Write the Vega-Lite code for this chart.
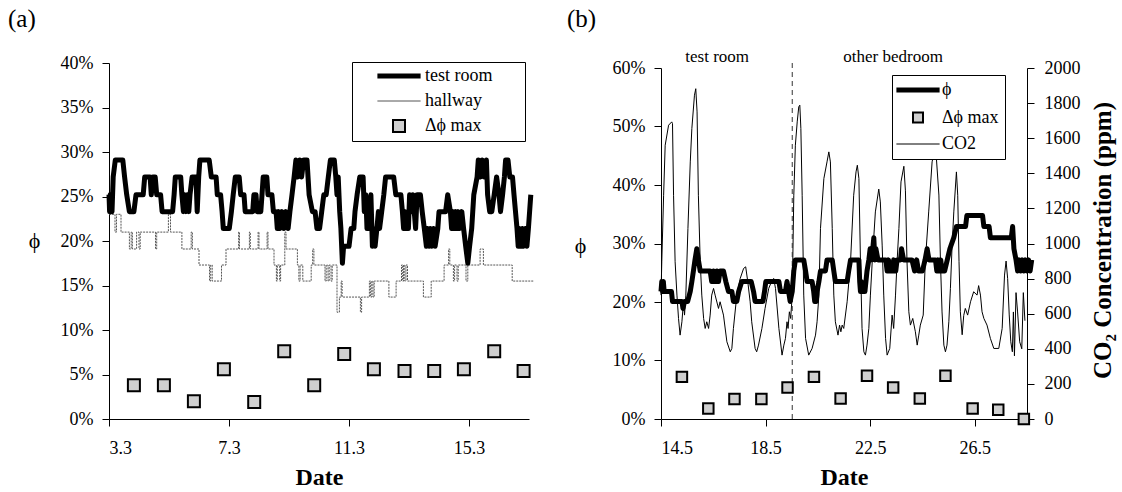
{
  "$schema": "https://vega.github.io/schema/vega-lite/v6.json",
  "autosize": {"type": "pad"},
  "padding": {"left": 8, "top": 6, "right": 5, "bottom": 5},
  "background": "white",
  "spacing": 132,
  "bounds": "flush",
  "resolve": {"scale": {"stroke": "independent"}, "legend": {"stroke": "independent"}},
  "config": {
    "view": {"stroke": null},
    "font": "Liberation Serif",
    "axis": {
      "labelFont": "Liberation Serif", "labelFontSize": 18, "labelColor": "black",
      "domainColor": "black", "tickColor": "black", "tickSize": 7, "grid": false,
      "titleFont": "Liberation Serif", "titleColor": "black", "labelOverlap": false
    },
    "legend": {
      "labelFont": "Liberation Serif", "labelFontSize": 18, "labelColor": "black",
      "strokeColor": "black", "fillColor": "white", "symbolStrokeWidth": 2
    },
    "title": {"font": "Liberation Serif", "fontSize": 25, "fontWeight": "normal", "color": "black"}
  },
  "datasets": {
    "a_test": [
      {"day":3.30,"phi":0.252},{"day":3.32,"phi":0.233},{"day":3.34,"phi":0.252},{"day":3.36,"phi":0.233},{"day":3.38,"phi":0.252},{"day":3.40,"phi":0.233},
      {"day":3.44,"phi":0.272},{"day":3.51,"phi":0.291},{"day":3.76,"phi":0.291},{"day":3.82,"phi":0.272},{"day":3.89,"phi":0.252},{"day":3.98,"phi":0.233},
      {"day":4.13,"phi":0.233},{"day":4.20,"phi":0.252},{"day":4.44,"phi":0.252},{"day":4.49,"phi":0.272},{"day":4.67,"phi":0.272},{"day":4.71,"phi":0.252},
      {"day":4.76,"phi":0.272},{"day":4.84,"phi":0.272},{"day":4.89,"phi":0.252},{"day":5.02,"phi":0.252},{"day":5.07,"phi":0.233},{"day":5.42,"phi":0.233},
      {"day":5.47,"phi":0.252},{"day":5.51,"phi":0.272},{"day":5.69,"phi":0.272},{"day":5.73,"phi":0.252},{"day":5.78,"phi":0.233},{"day":5.82,"phi":0.252},
      {"day":5.87,"phi":0.233},{"day":5.91,"phi":0.252},{"day":5.96,"phi":0.233},{"day":6.00,"phi":0.252},{"day":6.07,"phi":0.272},{"day":6.20,"phi":0.272},
      {"day":6.24,"phi":0.233},{"day":6.29,"phi":0.272},{"day":6.33,"phi":0.291},{"day":6.64,"phi":0.291},{"day":6.71,"phi":0.272},{"day":6.87,"phi":0.272},
      {"day":6.91,"phi":0.252},{"day":7.02,"phi":0.252},{"day":7.07,"phi":0.233},{"day":7.11,"phi":0.214},{"day":7.31,"phi":0.214},{"day":7.38,"phi":0.233},
      {"day":7.44,"phi":0.252},{"day":7.51,"phi":0.272},{"day":7.64,"phi":0.272},{"day":7.69,"phi":0.252},{"day":7.80,"phi":0.252},{"day":7.84,"phi":0.233},
      {"day":8.09,"phi":0.233},{"day":8.13,"phi":0.252},{"day":8.20,"phi":0.252},{"day":8.24,"phi":0.233},{"day":8.36,"phi":0.233},{"day":8.40,"phi":0.252},
      {"day":8.44,"phi":0.272},{"day":8.56,"phi":0.272},{"day":8.60,"phi":0.252},{"day":8.73,"phi":0.252},{"day":8.78,"phi":0.233},{"day":8.87,"phi":0.233},
      {"day":8.91,"phi":0.214},{"day":8.96,"phi":0.233},{"day":9.00,"phi":0.214},{"day":9.07,"phi":0.233},{"day":9.13,"phi":0.214},{"day":9.20,"phi":0.233},
      {"day":9.27,"phi":0.214},{"day":9.33,"phi":0.233},{"day":9.40,"phi":0.252},{"day":9.47,"phi":0.272},{"day":9.53,"phi":0.291},{"day":9.59,"phi":0.272},
      {"day":9.66,"phi":0.291},{"day":9.72,"phi":0.272},{"day":9.79,"phi":0.291},{"day":9.90,"phi":0.291},{"day":9.97,"phi":0.252},{"day":10.08,"phi":0.233},
      {"day":10.17,"phi":0.233},{"day":10.23,"phi":0.214},{"day":10.32,"phi":0.214},{"day":10.39,"phi":0.233},{"day":10.46,"phi":0.252},{"day":10.54,"phi":0.252},
      {"day":10.61,"phi":0.272},{"day":10.68,"phi":0.291},{"day":10.81,"phi":0.291},{"day":10.86,"phi":0.272},{"day":10.90,"phi":0.252},{"day":10.94,"phi":0.272},
      {"day":10.99,"phi":0.233},{"day":11.03,"phi":0.214},{"day":11.08,"phi":0.175},{"day":11.12,"phi":0.194},{"day":11.30,"phi":0.194},{"day":11.37,"phi":0.214},
      {"day":11.46,"phi":0.214},{"day":11.50,"phi":0.233},{"day":11.57,"phi":0.252},{"day":11.66,"phi":0.272},{"day":11.77,"phi":0.272},{"day":11.81,"phi":0.233},
      {"day":11.86,"phi":0.252},{"day":11.90,"phi":0.214},{"day":11.94,"phi":0.233},{"day":11.99,"phi":0.214},{"day":12.03,"phi":0.252},{"day":12.08,"phi":0.194},
      {"day":12.12,"phi":0.214},{"day":12.17,"phi":0.194},{"day":12.23,"phi":0.214},{"day":12.28,"phi":0.233},{"day":12.32,"phi":0.214},{"day":12.39,"phi":0.233},
      {"day":12.46,"phi":0.252},{"day":12.52,"phi":0.272},{"day":12.79,"phi":0.272},{"day":12.86,"phi":0.252},{"day":13.03,"phi":0.252},{"day":13.08,"phi":0.233},
      {"day":13.12,"phi":0.214},{"day":13.17,"phi":0.233},{"day":13.21,"phi":0.214},{"day":13.28,"phi":0.214},{"day":13.32,"phi":0.252},{"day":13.39,"phi":0.233},
      {"day":13.43,"phi":0.252},{"day":13.52,"phi":0.214},{"day":13.57,"phi":0.252},{"day":13.68,"phi":0.252},{"day":13.74,"phi":0.233},{"day":13.81,"phi":0.214},
      {"day":13.88,"phi":0.194},{"day":13.92,"phi":0.214},{"day":13.97,"phi":0.194},{"day":14.01,"phi":0.214},{"day":14.06,"phi":0.194},{"day":14.12,"phi":0.214},
      {"day":14.17,"phi":0.194},{"day":14.26,"phi":0.214},{"day":14.30,"phi":0.233},{"day":14.52,"phi":0.233},{"day":14.59,"phi":0.252},{"day":14.68,"phi":0.233},
      {"day":14.72,"phi":0.214},{"day":14.77,"phi":0.233},{"day":14.81,"phi":0.214},{"day":14.86,"phi":0.233},{"day":14.90,"phi":0.214},{"day":14.94,"phi":0.233},
      {"day":14.99,"phi":0.214},{"day":15.06,"phi":0.233},{"day":15.12,"phi":0.214},{"day":15.19,"phi":0.194},{"day":15.26,"phi":0.175},{"day":15.32,"phi":0.194},
      {"day":15.39,"phi":0.214},{"day":15.46,"phi":0.252},{"day":15.57,"phi":0.272},{"day":15.61,"phi":0.291},{"day":15.68,"phi":0.272},{"day":15.74,"phi":0.291},
      {"day":15.81,"phi":0.272},{"day":15.88,"phi":0.291},{"day":15.92,"phi":0.252},{"day":15.99,"phi":0.233},{"day":16.06,"phi":0.233},{"day":16.14,"phi":0.252},
      {"day":16.22,"phi":0.272},{"day":16.30,"phi":0.252},{"day":16.35,"phi":0.233},{"day":16.42,"phi":0.252},{"day":16.48,"phi":0.272},{"day":16.52,"phi":0.291},
      {"day":16.60,"phi":0.291},{"day":16.66,"phi":0.272},{"day":16.75,"phi":0.272},{"day":16.80,"phi":0.252},{"day":16.85,"phi":0.233},{"day":16.90,"phi":0.214},
      {"day":16.94,"phi":0.194},{"day":16.98,"phi":0.214},{"day":17.02,"phi":0.194},{"day":17.08,"phi":0.214},{"day":17.12,"phi":0.194},{"day":17.18,"phi":0.214},
      {"day":17.23,"phi":0.194},{"day":17.28,"phi":0.214},{"day":17.32,"phi":0.233},{"day":17.36,"phi":0.252}
    ],
    "a_hall": [
      {"day":3.30,"phi":0.230},{"day":3.50,"phi":0.210},{"day":3.55,"phi":0.230},{"day":3.70,"phi":0.210},{"day":3.98,"phi":0.191},{"day":4.04,"phi":0.210},
      {"day":4.08,"phi":0.191},{"day":4.22,"phi":0.210},{"day":4.30,"phi":0.191},{"day":4.34,"phi":0.210},{"day":4.85,"phi":0.191},{"day":4.89,"phi":0.210},
      {"day":5.28,"phi":0.230},{"day":5.35,"phi":0.210},{"day":5.73,"phi":0.191},{"day":6.04,"phi":0.210},{"day":6.08,"phi":0.191},{"day":6.30,"phi":0.173},
      {"day":6.65,"phi":0.155},{"day":6.69,"phi":0.173},{"day":6.74,"phi":0.155},{"day":7.05,"phi":0.173},{"day":7.20,"phi":0.191},{"day":7.62,"phi":0.210},
      {"day":7.65,"phi":0.191},{"day":7.98,"phi":0.210},{"day":8.01,"phi":0.191},{"day":8.27,"phi":0.210},{"day":8.30,"phi":0.191},{"day":8.57,"phi":0.210},
      {"day":8.60,"phi":0.191},{"day":8.80,"phi":0.173},{"day":8.88,"phi":0.155},{"day":8.91,"phi":0.173},{"day":8.99,"phi":0.155},{"day":9.02,"phi":0.173},
      {"day":9.16,"phi":0.210},{"day":9.20,"phi":0.191},{"day":9.58,"phi":0.173},{"day":9.63,"phi":0.155},{"day":9.67,"phi":0.173},{"day":9.76,"phi":0.155},
      {"day":10.04,"phi":0.173},{"day":10.09,"phi":0.191},{"day":10.13,"phi":0.173},{"day":10.50,"phi":0.155},{"day":10.54,"phi":0.173},{"day":10.60,"phi":0.155},
      {"day":10.64,"phi":0.173},{"day":10.70,"phi":0.155},{"day":10.74,"phi":0.173},{"day":10.90,"phi":0.120},{"day":10.98,"phi":0.137},{"day":11.04,"phi":0.155},
      {"day":11.07,"phi":0.137},{"day":11.68,"phi":0.120},{"day":11.72,"phi":0.137},{"day":11.98,"phi":0.155},{"day":12.02,"phi":0.137},{"day":12.06,"phi":0.155},
      {"day":12.10,"phi":0.137},{"day":12.14,"phi":0.155},{"day":12.63,"phi":0.137},{"day":12.87,"phi":0.155},{"day":13.05,"phi":0.173},{"day":13.09,"phi":0.155},
      {"day":13.12,"phi":0.173},{"day":13.16,"phi":0.155},{"day":13.20,"phi":0.173},{"day":13.25,"phi":0.155},{"day":13.78,"phi":0.137},{"day":14.04,"phi":0.155},
      {"day":14.47,"phi":0.173},{"day":14.62,"phi":0.191},{"day":14.66,"phi":0.173},{"day":14.78,"phi":0.155},{"day":14.82,"phi":0.173},{"day":14.90,"phi":0.155},
      {"day":14.94,"phi":0.173},{"day":15.20,"phi":0.155},{"day":15.26,"phi":0.173},{"day":15.67,"phi":0.191},{"day":15.78,"phi":0.173},{"day":16.74,"phi":0.155},
      {"day":17.45,"phi":0.155}
    ],
    "a_dmax": [
      {"day":4.13,"dphi":0.038},{"day":5.13,"dphi":0.038},{"day":6.13,"dphi":0.020},{"day":7.13,"dphi":0.056},{"day":8.14,"dphi":0.019},
      {"day":9.14,"dphi":0.076},{"day":10.14,"dphi":0.038},{"day":11.14,"dphi":0.073},{"day":12.13,"dphi":0.056},{"day":13.15,"dphi":0.054},
      {"day":14.14,"dphi":0.054},{"day":15.13,"dphi":0.056},{"day":16.14,"dphi":0.076},{"day":17.12,"dphi":0.054}
    ],
    "b_phi": [
      {"day":14.50,"phi":0.218},{"day":14.53,"phi":0.235},{"day":14.56,"phi":0.218},{"day":14.59,"phi":0.235},{"day":14.62,"phi":0.218},{"day":14.90,"phi":0.218},
      {"day":14.94,"phi":0.201},{"day":15.30,"phi":0.201},{"day":15.34,"phi":0.189},{"day":15.40,"phi":0.201},{"day":15.52,"phi":0.201},{"day":15.62,"phi":0.218},
      {"day":15.68,"phi":0.235},{"day":15.74,"phi":0.253},{"day":15.80,"phi":0.272},{"day":15.87,"phi":0.291},{"day":15.93,"phi":0.272},{"day":16.00,"phi":0.253},
      {"day":16.38,"phi":0.253},{"day":16.44,"phi":0.235},{"day":16.51,"phi":0.253},{"day":16.57,"phi":0.235},{"day":16.64,"phi":0.253},{"day":16.70,"phi":0.235},
      {"day":16.76,"phi":0.253},{"day":16.89,"phi":0.253},{"day":16.98,"phi":0.235},{"day":17.08,"phi":0.218},{"day":17.21,"phi":0.218},{"day":17.27,"phi":0.201},
      {"day":17.40,"phi":0.201},{"day":17.47,"phi":0.218},{"day":17.59,"phi":0.235},{"day":17.95,"phi":0.235},{"day":18.04,"phi":0.218},{"day":18.10,"phi":0.201},
      {"day":18.40,"phi":0.201},{"day":18.46,"phi":0.218},{"day":18.51,"phi":0.235},{"day":19.01,"phi":0.235},{"day":19.07,"phi":0.218},{"day":19.26,"phi":0.218},
      {"day":19.32,"phi":0.235},{"day":19.38,"phi":0.218},{"day":19.44,"phi":0.201},{"day":19.52,"phi":0.218},{"day":19.58,"phi":0.253},{"day":19.64,"phi":0.272},
      {"day":19.96,"phi":0.272},{"day":20.03,"phi":0.253},{"day":20.09,"phi":0.235},{"day":20.28,"phi":0.235},{"day":20.34,"phi":0.218},{"day":20.38,"phi":0.201},
      {"day":20.41,"phi":0.218},{"day":20.44,"phi":0.201},{"day":20.47,"phi":0.218},{"day":20.54,"phi":0.235},{"day":20.60,"phi":0.253},{"day":20.79,"phi":0.253},
      {"day":20.85,"phi":0.272},{"day":21.05,"phi":0.272},{"day":21.11,"phi":0.253},{"day":21.17,"phi":0.235},{"day":21.62,"phi":0.235},{"day":21.68,"phi":0.253},
      {"day":21.75,"phi":0.272},{"day":22.07,"phi":0.272},{"day":22.10,"phi":0.235},{"day":22.13,"phi":0.218},{"day":22.16,"phi":0.235},{"day":22.19,"phi":0.218},
      {"day":22.30,"phi":0.218},{"day":22.38,"phi":0.253},{"day":22.45,"phi":0.272},{"day":22.50,"phi":0.291},{"day":22.55,"phi":0.272},{"day":22.60,"phi":0.291},
      {"day":22.64,"phi":0.310},{"day":22.68,"phi":0.272},{"day":22.72,"phi":0.291},{"day":22.80,"phi":0.272},{"day":23.10,"phi":0.272},{"day":23.15,"phi":0.253},
      {"day":23.20,"phi":0.272},{"day":23.25,"phi":0.253},{"day":23.35,"phi":0.253},{"day":23.40,"phi":0.272},{"day":23.48,"phi":0.253},{"day":23.53,"phi":0.272},
      {"day":23.66,"phi":0.272},{"day":23.70,"phi":0.291},{"day":23.78,"phi":0.272},{"day":24.10,"phi":0.272},{"day":24.20,"phi":0.253},{"day":24.28,"phi":0.272},
      {"day":24.35,"phi":0.253},{"day":24.50,"phi":0.253},{"day":24.60,"phi":0.272},{"day":24.68,"phi":0.291},{"day":24.75,"phi":0.272},{"day":25.00,"phi":0.272},
      {"day":25.05,"phi":0.253},{"day":25.10,"phi":0.272},{"day":25.15,"phi":0.253},{"day":25.20,"phi":0.272},{"day":25.25,"phi":0.253},{"day":25.35,"phi":0.253},
      {"day":25.45,"phi":0.272},{"day":25.55,"phi":0.291},{"day":25.70,"phi":0.310},{"day":25.80,"phi":0.329},{"day":26.15,"phi":0.329},{"day":26.20,"phi":0.348},
      {"day":26.80,"phi":0.348},{"day":26.85,"phi":0.329},{"day":27.05,"phi":0.329},{"day":27.10,"phi":0.310},{"day":27.90,"phi":0.310},{"day":27.95,"phi":0.329},
      {"day":28.00,"phi":0.291},{"day":28.08,"phi":0.272},{"day":28.14,"phi":0.253},{"day":28.20,"phi":0.272},{"day":28.26,"phi":0.253},{"day":28.32,"phi":0.272},
      {"day":28.38,"phi":0.253},{"day":28.44,"phi":0.272},{"day":28.50,"phi":0.253},{"day":28.56,"phi":0.272},{"day":28.62,"phi":0.253},{"day":28.68,"phi":0.272}
    ],
    "b_dmax": [
      {"day":15.30,"dphi":0.072},{"day":16.31,"dphi":0.018},{"day":17.31,"dphi":0.034},{"day":18.34,"dphi":0.034},{"day":19.34,"dphi":0.054},
      {"day":20.35,"dphi":0.072},{"day":21.37,"dphi":0.035},{"day":22.38,"dphi":0.074},{"day":23.38,"dphi":0.054},{"day":24.40,"dphi":0.035},
      {"day":25.38,"dphi":0.074},{"day":26.42,"dphi":0.018},{"day":27.40,"dphi":0.016},{"day":28.38,"dphi":0.0}
    ],
    "b_co2": [
      {"day":14.50,"co2":706},{"day":14.53,"co2":896},{"day":14.60,"co2":1275},{"day":14.66,"co2":1560},{"day":14.79,"co2":1674},{"day":14.91,"co2":1693},
      {"day":14.94,"co2":1683},{"day":14.98,"co2":1275},{"day":15.04,"co2":896},{"day":15.11,"co2":706},{"day":15.17,"co2":573},{"day":15.23,"co2":478},
      {"day":15.30,"co2":554},{"day":15.36,"co2":668},{"day":15.40,"co2":592},{"day":15.45,"co2":706},{"day":15.53,"co2":1085},{"day":15.62,"co2":1465},
      {"day":15.68,"co2":1655},{"day":15.78,"co2":1845},{"day":15.83,"co2":1882},{"day":15.88,"co2":1750},{"day":15.93,"co2":1275},{"day":16.00,"co2":896},
      {"day":16.06,"co2":706},{"day":16.13,"co2":573},{"day":16.19,"co2":516},{"day":16.25,"co2":554},{"day":16.32,"co2":516},{"day":16.38,"co2":592},
      {"day":16.44,"co2":706},{"day":16.51,"co2":744},{"day":16.57,"co2":706},{"day":16.70,"co2":630},{"day":16.76,"co2":668},{"day":16.89,"co2":592},
      {"day":17.02,"co2":440},{"day":17.15,"co2":383},{"day":17.21,"co2":402},{"day":17.27,"co2":516},{"day":17.40,"co2":706},{"day":17.53,"co2":801},
      {"day":17.66,"co2":858},{"day":17.74,"co2":867},{"day":17.82,"co2":782},{"day":17.91,"co2":668},{"day":17.97,"co2":554},{"day":18.10,"co2":402},
      {"day":18.16,"co2":383},{"day":18.23,"co2":421},{"day":18.36,"co2":516},{"day":18.48,"co2":630},{"day":18.62,"co2":744},{"day":18.75,"co2":791},
      {"day":18.81,"co2":801},{"day":18.88,"co2":744},{"day":19.01,"co2":516},{"day":19.13,"co2":364},{"day":19.20,"co2":421},{"day":19.26,"co2":459},
      {"day":19.32,"co2":554},{"day":19.36,"co2":516},{"day":19.41,"co2":611},{"day":19.46,"co2":573},{"day":19.52,"co2":706},{"day":19.58,"co2":1275},
      {"day":19.64,"co2":1560},{"day":19.71,"co2":1693},{"day":19.77,"co2":1779},{"day":19.81,"co2":1788},{"day":19.85,"co2":1655},{"day":19.90,"co2":1275},
      {"day":19.96,"co2":706},{"day":20.03,"co2":459},{"day":20.15,"co2":364},{"day":20.28,"co2":402},{"day":20.41,"co2":478},{"day":20.47,"co2":554},
      {"day":20.54,"co2":706},{"day":20.60,"co2":1085},{"day":20.73,"co2":1370},{"day":20.85,"co2":1465},{"day":20.92,"co2":1522},{"day":20.98,"co2":1465},
      {"day":21.05,"co2":1085},{"day":21.11,"co2":706},{"day":21.17,"co2":554},{"day":21.27,"co2":478},{"day":21.33,"co2":535},{"day":21.38,"co2":497},
      {"day":21.43,"co2":535},{"day":21.49,"co2":516},{"day":21.62,"co2":668},{"day":21.75,"co2":896},{"day":21.87,"co2":1275},{"day":21.96,"co2":1408},
      {"day":22.01,"co2":1446},{"day":22.07,"co2":1370},{"day":22.13,"co2":896},{"day":22.19,"co2":516},{"day":22.26,"co2":383},{"day":22.32,"co2":364},
      {"day":22.38,"co2":421},{"day":22.45,"co2":516},{"day":22.51,"co2":706},{"day":22.58,"co2":896},{"day":22.70,"co2":1180},{"day":22.83,"co2":1310},
      {"day":22.89,"co2":1237},{"day":22.96,"co2":991},{"day":23.02,"co2":706},{"day":23.09,"co2":459},{"day":23.15,"co2":364},{"day":23.25,"co2":402},
      {"day":23.34,"co2":592},{"day":23.40,"co2":516},{"day":23.47,"co2":706},{"day":23.53,"co2":896},{"day":23.60,"co2":1085},{"day":23.68,"co2":1351},
      {"day":23.79,"co2":1440},{"day":23.85,"co2":1300},{"day":23.91,"co2":896},{"day":23.98,"co2":611},{"day":24.04,"co2":535},{"day":24.13,"co2":573},
      {"day":24.23,"co2":497},{"day":24.30,"co2":421},{"day":24.36,"co2":478},{"day":24.42,"co2":535},{"day":24.53,"co2":592},{"day":24.61,"co2":896},
      {"day":24.74,"co2":1180},{"day":24.87,"co2":1465},{"day":25.00,"co2":1560},{"day":25.13,"co2":1276},{"day":25.19,"co2":895},{"day":25.25,"co2":610},
      {"day":25.32,"co2":421},{"day":25.38,"co2":383},{"day":25.44,"co2":421},{"day":25.51,"co2":554},{"day":25.57,"co2":743},{"day":25.63,"co2":971},
      {"day":25.70,"co2":1180},{"day":25.80,"co2":1408},{"day":25.85,"co2":1275},{"day":25.90,"co2":896},{"day":25.95,"co2":611},{"day":26.02,"co2":480},
      {"day":26.08,"co2":590},{"day":26.14,"co2":630},{"day":26.23,"co2":592},{"day":26.34,"co2":668},{"day":26.46,"co2":725},{"day":26.59,"co2":706},
      {"day":26.65,"co2":760},{"day":26.72,"co2":706},{"day":26.78,"co2":611},{"day":26.85,"co2":573},{"day":26.97,"co2":535},{"day":27.10,"co2":459},
      {"day":27.23,"co2":402},{"day":27.42,"co2":402},{"day":27.55,"co2":516},{"day":27.64,"co2":820},{"day":27.70,"co2":900},{"day":27.76,"co2":800},
      {"day":27.82,"co2":593},{"day":27.88,"co2":440},{"day":27.94,"co2":383},{"day":27.98,"co2":610},{"day":28.02,"co2":360},{"day":28.08,"co2":720},
      {"day":28.14,"co2":610},{"day":28.22,"co2":440},{"day":28.30,"co2":400},{"day":28.36,"co2":720},{"day":28.42,"co2":560}
    ],
    "b_regions": [
      {"day":16.65,"room":"test room"},{"day":23.38,"room":"other bedroom"}
    ],
    "b_switch": [
      {"day":19.52}
    ]
  },
  "hconcat": [
    {
      "width": 420,
      "height": 356,
      "title": {"text": "(a)", "anchor": "start", "frame": "group", "dx": -101, "offset": 22},
      "layer": [
        {
          "data": {"name": "a_hall"},
          "mark": {"type": "line", "interpolate": "step-after", "strokeWidth": 1, "strokeDash": [2, 1], "clip": false},
          "encoding": {
            "x": {"field": "day", "type": "quantitative",
                  "scale": {"domain": [3.3, 17.3], "nice": false, "zero": false},
                  "axis": {"values": [3.3, 7.3, 11.3, 15.3], "format": ".1f", "title": "Date", "labelPadding": 13,
                           "titleFontSize": 24, "titleFontWeight": "bold", "titlePadding": 8}},
            "y": {"field": "phi", "type": "quantitative",
                  "scale": {"domain": [0, 0.4], "nice": false, "zero": false},
                  "axis": {"values": [0, 0.05, 0.1, 0.15, 0.2, 0.25, 0.3, 0.35, 0.4], "format": ".0%", "title": "ϕ",
                           "titleAngle": 0, "titleX": -75, "titleY": 177, "titleAlign": "center", "titleBaseline": "middle",
                           "titleFontSize": 22, "titleFontWeight": "normal", "labelPadding": 9}},
            "stroke": {"datum": "hallway", "type": "nominal",
                       "scale": {"domain": ["test room", "hallway", "Δϕ max"], "range": ["black", "#555555", "black"]},
                       "legend": {
                         "title": null, "orient": "none", "legendX": 243, "legendY": -1,
                         "padding": 5, "rowPadding": 6, "symbolOffset": 33, "labelOffset": 17,
                         "symbolType": "M-2.4,0H2.4", "symbolSize": 324,
                         "labelExpr": "datum.label + '\u00a0\u00a0\u00a0\u200b'",
                         "encode": {
                           "labels": {"update": {"text": {"signal": "datum.label + '\u00a0\u00a0\u00a0\u200b'"}}},
                           "symbols": {"update": {
                             "shape": {"signal": "datum.value === 'Δϕ max' ? 'square' : 'M-2.4,0H2.4'"},
                             "size": {"signal": "datum.value === 'Δϕ max' ? 144 : 324"},
                             "strokeWidth": {"signal": "datum.value === 'test room' ? 5 : (datum.value === 'hallway' ? 1 : 2)"},
                             "fill": {"signal": "datum.value === 'Δϕ max' ? '#cfcfcf' : 'transparent'"},
                             "stroke": {"signal": "datum.value === 'hallway' ? '#555555' : 'black'"},
                             "opacity": {"value": 1}
                           }}
                         }
                       }}
          }
        },
        {
          "data": {"name": "a_test"},
          "mark": {"type": "line", "strokeWidth": 5, "strokeJoin": "round", "clip": false},
          "encoding": {
            "x": {"field": "day", "type": "quantitative"},
            "y": {"field": "phi", "type": "quantitative"},
            "stroke": {"datum": "test room", "type": "nominal"}
          }
        },
        {
          "data": {"name": "a_dmax"},
          "mark": {"type": "point", "shape": "square", "filled": true, "fill": "#cfcfcf", "size": 144, "strokeWidth": 2, "opacity": 1},
          "encoding": {
            "x": {"field": "day", "type": "quantitative"},
            "y": {"field": "dphi", "type": "quantitative"},
            "stroke": {"datum": "Δϕ max", "type": "nominal"}
          }
        }
      ]
    },
    {
      "width": 366,
      "height": 356,
      "title": {"text": "(b)", "anchor": "start", "frame": "group", "dx": -94, "offset": 16},
      "layer": [
        {
          "data": {"name": "b_co2"},
          "mark": {"type": "line", "strokeWidth": 1, "clip": false},
          "encoding": {
            "x": {"field": "day", "type": "quantitative",
                  "scale": {"domain": [14.5, 28.5], "nice": false, "zero": false},
                  "axis": {"values": [14.5, 18.5, 22.5, 26.5], "format": ".1f", "title": "Date", "labelPadding": 13,
                           "titleFontSize": 24, "titleFontWeight": "bold", "titlePadding": 8}},
            "y": {"field": "co2", "type": "quantitative",
                  "scale": {"domain": [0, 2000], "range": [356, 5], "nice": false, "zero": false},
                  "axis": {"orient": "right", "values": [0, 200, 400, 600, 800, 1000, 1200, 1400, 1600, 1800, 2000], "format": "d",
                           "title": "CO₂ Concentration (ppm)", "titleAngle": 270, "titleX": 75, "titleY": 177,
                           "titleAlign": "center", "titleBaseline": "middle", "titleFontSize": 25, "titleFontWeight": "bold",
                           "labelPadding": 10}},
            "stroke": {"datum": "CO2", "type": "nominal",
                       "scale": {"domain": ["ϕ", "Δϕ max", "CO2"], "range": ["black", "black", "black"]},
                       "legend": {
                         "title": null, "orient": "none", "legendX": 231, "legendY": 12,
                         "padding": 6, "rowPadding": 8.5, "symbolOffset": 11, "labelOffset": 15,
                         "symbolType": "M-2.4,0H2.4", "symbolSize": 324,
                         "encode": {
                           "symbols": {"update": {
                             "shape": {"signal": "datum.value === 'Δϕ max' ? 'square' : 'M-2.4,0H2.4'"},
                             "size": {"signal": "datum.value === 'Δϕ max' ? 100 : 324"},
                             "strokeWidth": {"signal": "datum.value === 'ϕ' ? 5 : (datum.value === 'CO2' ? 1 : 2)"},
                             "fill": {"signal": "datum.value === 'Δϕ max' ? '#cfcfcf' : 'transparent'"},
                             "stroke": {"value": "black"},
                             "opacity": {"value": 1}
                           }}
                         }
                       }}
          }
        },
        {
          "layer": [
            {
              "data": {"name": "b_switch"},
              "mark": {"type": "rule", "strokeDash": [5, 4], "strokeWidth": 1, "color": "#333333"},
              "encoding": {"x": {"field": "day", "type": "quantitative"}}
            },
            {
              "data": {"name": "b_regions"},
              "mark": {"type": "text", "font": "Liberation Serif", "fontSize": 17, "baseline": "middle", "color": "black", "clip": false},
              "encoding": {
                "x": {"field": "day", "type": "quantitative"},
                "y": {"datum": 0.619, "type": "quantitative"},
                "text": {"field": "room"}
              }
            },
            {
              "data": {"name": "b_phi"},
              "mark": {"type": "line", "strokeWidth": 5, "strokeJoin": "round", "clip": false},
              "encoding": {
                "x": {"field": "day", "type": "quantitative"},
                "y": {"field": "phi", "type": "quantitative",
                      "scale": {"domain": [0, 0.6], "range": [356, 5], "nice": false, "zero": false},
                      "axis": {"orient": "left", "values": [0, 0.1, 0.2, 0.3, 0.4, 0.5, 0.6], "format": ".0%", "title": "ϕ",
                               "titleAngle": 0, "titleX": -81, "titleY": 182, "titleAlign": "center", "titleBaseline": "middle",
                               "titleFontSize": 22, "titleFontWeight": "normal", "labelPadding": 9}},
                "stroke": {"datum": "ϕ", "type": "nominal"}
              }
            },
            {
              "data": {"name": "b_dmax"},
              "mark": {"type": "point", "shape": "square", "filled": true, "fill": "#cfcfcf", "size": 110, "strokeWidth": 2, "opacity": 1, "clip": false},
              "encoding": {
                "x": {"field": "day", "type": "quantitative"},
                "y": {"field": "dphi", "type": "quantitative"},
                "stroke": {"datum": "Δϕ max", "type": "nominal"}
              }
            }
          ]
        }
      ],
      "resolve": {"scale": {"y": "independent"}}
    }
  ]
}
